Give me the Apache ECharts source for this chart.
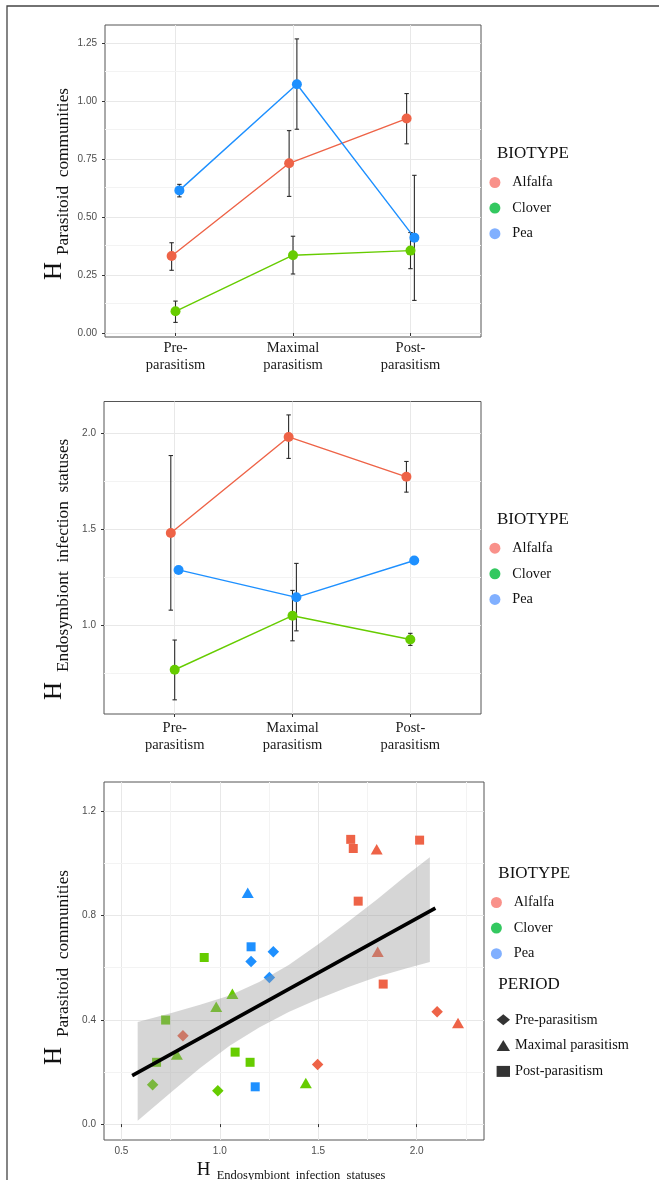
<!DOCTYPE html>
<html>
<head>
<meta charset="utf-8">
<script src="https://cdn.jsdelivr.net/npm/echarts@6/dist/echarts.min.js"></script>
<style>
html,body{margin:0;padding:0;background:#fff;}
#chart{width:659px;height:1180px;}
</style>
</head>
<body>
<div id="chart"></div>
<script>
// ---------- DATA ----------
const categories = ['Pre-\nparasitism', 'Maximal\nparasitism', 'Post-\nparasitism'];
const biotypes = ['Alfalfa', 'Clover', 'Pea'];
const periods = ['Pre-parasitism', 'Maximal parasitism', 'Post-parasitism'];

// Panel 1: H Parasitoid communities (mean, lower, upper) per biotype, per period
const parasitoidMean = { Alfalfa: [0.333, 0.733, 0.926], Clover: [0.094, 0.336, 0.356], Pea: [0.616, 1.074, 0.412] };
const parasitoidLow  = { Alfalfa: [0.271, 0.590, 0.817], Clover: [0.046, 0.255, 0.278], Pea: [0.588, 0.880, 0.141] };
const parasitoidHigh = { Alfalfa: [0.390, 0.874, 1.034], Clover: [0.138, 0.418, 0.434], Pea: [0.642, 1.270, 0.681] };

// Panel 2: H Endosymbiont infection statuses
const endoMean = { Alfalfa: [1.481, 1.982, 1.774], Clover: [0.767, 1.049, 0.925], Pea: [1.288, 1.145, 1.337] };
const endoLow  = { Alfalfa: [1.078, 1.870, 1.694], Clover: [0.610, 0.918, 0.894], Pea: [1.285, 0.970, 1.334] };
const endoHigh = { Alfalfa: [1.885, 2.097, 1.854], Clover: [0.922, 1.181, 0.957], Pea: [1.291, 1.322, 1.340] };

// Panel 3: scatter [H endosymbiont, H parasitoid] by biotype and period
const scatterPoints = {
  Alfalfa: {
    'Pre-parasitism':     [[0.813, 0.339], [1.497, 0.229], [2.104, 0.431]],
    'Maximal parasitism': [[1.797, 1.054], [1.802, 0.661], [2.210, 0.388]],
    'Post-parasitism':    [[1.665, 1.092], [1.678, 1.057], [2.015, 1.089], [1.703, 0.855], [1.830, 0.537]]
  },
  Clover: {
    'Pre-parasitism':     [[0.659, 0.151], [0.990, 0.128]],
    'Maximal parasitism': [[1.064, 0.500], [0.982, 0.450], [0.782, 0.267], [1.437, 0.158]],
    'Post-parasitism':    [[0.921, 0.639], [0.725, 0.399], [0.679, 0.237], [1.078, 0.276], [1.154, 0.237]]
  },
  Pea: {
    'Pre-parasitism':     [[1.159, 0.624], [1.272, 0.661], [1.252, 0.562]],
    'Maximal parasitism': [[1.142, 0.887]],
    'Post-parasitism':    [[1.159, 0.680], [1.180, 0.143]]
  }
};
// regression line end points and confidence ribbon
const regLineX = [0.555, 2.095];
const regLineY = [0.186, 0.828];
const ribbonX    = [0.583, 0.75, 0.90, 1.05, 1.20, 1.35, 1.50, 1.65, 1.80, 1.95, 2.067];
const ribbonLow  = [0.013, 0.120, 0.215, 0.300, 0.370, 0.430, 0.480, 0.525, 0.565, 0.598, 0.622];
const ribbonHigh = [0.392, 0.425, 0.458, 0.493, 0.545, 0.610, 0.690, 0.775, 0.862, 0.955, 1.023];

// ticks
const catTicks = [1, 2, 3];
const parasitoidTicks = [0, 0.25, 0.5, 0.75, 1.0, 1.25];
const parasitoidMinor = [0.125, 0.375, 0.625, 0.875, 1.125];
const endoTicks = [1.0, 1.5, 2.0];
const endoMinor = [0.75, 1.25, 1.75];
const scatterXTicks = [0.5, 1.0, 1.5, 2.0];
const scatterXMinor = [0.75, 1.25, 1.75, 2.25];
const scatterYTicks = [0, 0.4, 0.8, 1.2];
const scatterYMinor = [0.2, 0.6, 1.0];

// ---------- STYLE ----------
const lineColors = { Alfalfa: '#EE6347', Clover: '#66CC00', Pea: '#1E90FF' };
const legendColors = { Alfalfa: '#F8766D', Clover: '#00BA38', Pea: '#619CFF' };
const dodge = { Alfalfa: -0.033, Clover: 0, Pea: 0.033 };
const periodSymbols = { 'Pre-parasitism': 'diamond', 'Maximal parasitism': 'triangle', 'Post-parasitism': 'rect' };
const periodSizes = { 'Pre-parasitism': [11.5, 11.5], 'Maximal parasitism': [12, 10.5], 'Post-parasitism': 9 };
const SERIF = '"Liberation Serif", "Times New Roman", serif';
const SANS = '"Liberation Sans", Arial, sans-serif';
const MAJOR = '#e8e8e8', MINOR = '#f3f3f3';

function axisCommon(gridIndex, min, max, ticks, formatter, labelOpts) {
  return {
    type: 'value', gridIndex, min, max,
    axisLine: { show: false },
    axisTick: { show: true, length: 3, customValues: ticks, lineStyle: { color: '#333', width: 1 } },
    axisLabel: Object.assign({ customValues: ticks, formatter, color: '#4d4d4d', fontSize: 10, fontFamily: SANS, margin: 8 }, labelOpts || {}),
    splitLine: { show: true, lineStyle: { color: MAJOR, width: 1 } }
  };
}
const catLabel = (margin) => ({
  fontFamily: SERIF, fontSize: 14.5, lineHeight: 17, color: '#1a1a1a', margin,
  formatter: v => categories[Math.round(v) - 1]
});

function errorBarRender(params, api) {
  const x = api.value(0);
  const p1 = api.coord([x, api.value(1)]);
  const p2 = api.coord([x, api.value(2)]);
  const hw = 2.2;
  const st = { stroke: '#2b2b2b', lineWidth: 1.1 };
  return { type: 'group', children: [
    { type: 'line', shape: { x1: p1[0], y1: p1[1], x2: p2[0], y2: p2[1] }, style: st },
    { type: 'line', shape: { x1: p1[0] - hw, y1: p1[1], x2: p1[0] + hw, y2: p1[1] }, style: st },
    { type: 'line', shape: { x1: p2[0] - hw, y1: p2[1], x2: p2[0] + hw, y2: p2[1] }, style: st }
  ]};
}

function minorLines(idx, yVals, xVals) {
  const data = yVals.map(v => ({ yAxis: v })).concat((xVals || []).map(v => ({ xAxis: v })));
  return {
    type: 'line', name: 'minor' + idx, xAxisIndex: idx, yAxisIndex: idx, data: [], z: 1, silent: true,
    markLine: { z: 1, silent: true, symbol: ['none', 'none'], label: { show: false }, emphasis: { disabled: true },
      lineStyle: { color: MINOR, width: 1, type: 'solid' }, data }
  };
}

const series = [];
series.push(minorLines(0, parasitoidMinor));
series.push(minorLines(1, endoMinor));
series.push(minorLines(2, scatterYMinor, scatterXMinor));

function panelSeries(idx, mean, low, high) {
  biotypes.forEach(b => {
    series.push({
      type: 'custom', name: b + ' err ' + idx, xAxisIndex: idx, yAxisIndex: idx, z: 2, silent: true,
      encode: { x: 0, y: [1, 2] },
      data: mean[b].map((m, i) => [catTicks[i] + dodge[b], low[b][i], high[b][i]]),
      renderItem: errorBarRender
    });
    series.push({
      type: 'line', name: b + ' line ' + idx, xAxisIndex: idx, yAxisIndex: idx, z: 3,
      data: mean[b].map((m, i) => [catTicks[i] + dodge[b], m]),
      symbol: 'circle', symbolSize: 10, showSymbol: true,
      lineStyle: { color: lineColors[b], width: 1.4 },
      itemStyle: { color: lineColors[b] }
    });
  });
}
panelSeries(0, parasitoidMean, parasitoidLow, parasitoidHigh);
panelSeries(1, endoMean, endoLow, endoHigh);

biotypes.forEach(b => {
  periods.forEach(p => {
    series.push({
      type: 'scatter', name: b + ' ' + p, xAxisIndex: 2, yAxisIndex: 2, z: 3,
      symbol: periodSymbols[p], symbolSize: periodSizes[p],
      itemStyle: { color: lineColors[b], opacity: 1 },
      data: scatterPoints[b][p]
    });
  });
});
series.push({
  type: 'custom', name: 'ribbon', xAxisIndex: 2, yAxisIndex: 2, z: 4, silent: true,
  encode: { x: 0, y: [1, 2] },
  data: ribbonX.map((x, i) => [x, ribbonLow[i], ribbonHigh[i]]),
  renderItem: function (params, api) {
    if (params.dataIndex !== 0) return null;
    const up = ribbonX.map((x, i) => api.coord([x, ribbonHigh[i]]));
    const lo = ribbonX.map((x, i) => api.coord([x, ribbonLow[i]])).reverse();
    return { type: 'polygon', shape: { points: up.concat(lo) }, style: { fill: 'rgba(153,153,153,0.4)' } };
  }
});
series.push({
  type: 'line', name: 'fit', xAxisIndex: 2, yAxisIndex: 2, z: 5, symbol: 'none',
  data: regLineX.map((x, i) => [x, regLineY[i]]),
  lineStyle: { color: '#000', width: 3.6 }
});
// legend-only series
biotypes.forEach(b => series.push({ type: 'scatter', name: b, xAxisIndex: 0, yAxisIndex: 0, data: [], itemStyle: { color: legendColors[b] } }));
periods.forEach(p => series.push({ type: 'scatter', name: p, xAxisIndex: 2, yAxisIndex: 2, data: [], symbol: periodSymbols[p], itemStyle: { color: '#000' } }));

const legendText = { fontFamily: SERIF, fontSize: 14.3, color: '#111', lineHeight: 11 };
function bioLegend(left, top) {
  return { orient: 'vertical', left, top, itemWidth: 24.6, itemHeight: 11, itemGap: 11.6, icon: 'circle',
    selectedMode: false, textStyle: legendText, data: biotypes };
}

const option = {
  animation: false,
  backgroundColor: '#fff',
  grid: [
    { left: 105, top: 25, width: 376, height: 312, show: true, borderColor: '#555', borderWidth: 1, backgroundColor: '#fff' },
    { left: 104, top: 401.5, width: 377, height: 312.5, show: true, borderColor: '#555', borderWidth: 1, backgroundColor: '#fff' },
    { left: 104, top: 782, width: 380, height: 358, show: true, borderColor: '#555', borderWidth: 1, backgroundColor: '#fff' }
  ],
  xAxis: [
    axisCommon(0, 0.4, 3.6, catTicks, null, catLabel(3)),
    axisCommon(1, 0.4, 3.6, catTicks, null, catLabel(6)),
    axisCommon(2, 0.412, 2.342, scatterXTicks, v => v.toFixed(1), { margin: 6 })
  ],
  yAxis: [
    axisCommon(0, -0.017, 1.33, parasitoidTicks, v => v.toFixed(2)),
    axisCommon(1, 0.536, 2.167, endoTicks, v => v.toFixed(1)),
    axisCommon(2, -0.061, 1.312, scatterYTicks, v => v.toFixed(1))
  ],
  legend: [
    bioLegend(484.4, 170.5),
    bioLegend(484.4, 536.2),
    bioLegend(485.9, 890.5),
    { orient: 'vertical', left: 491.6, top: 1007.8, itemWidth: 13.4, itemHeight: 11, itemGap: 11.8,
      selectedMode: false, textStyle: legendText,
      data: periods.map(p => ({ name: p, icon: periodSymbols[p] })) }
  ],
  graphic: [
    { type: 'rect', silent: true, shape: { x: 7, y: 6, width: 760, height: 1300 }, style: { fill: null, stroke: '#444', lineWidth: 1.3 } },
    { type: 'group', x: 54, y: 280, rotation: Math.PI / 2, children: [
      { type: 'text', x: 0, y: 0, style: { text: 'H', font: '25px ' + SERIF, fill: '#111', align: 'left', verticalAlign: 'middle' } },
      { type: 'text', x: 25, y: 9.5, style: { text: 'Parasitoid  communities', font: '17.3px ' + SERIF, fill: '#111', align: 'left', verticalAlign: 'middle' } }
    ]},
    { type: 'group', x: 54, y: 700, rotation: Math.PI / 2, children: [
      { type: 'text', x: 0, y: 0, style: { text: 'H', font: '25px ' + SERIF, fill: '#111', align: 'left', verticalAlign: 'middle' } },
      { type: 'text', x: 28, y: 9.5, style: { text: 'Endosymbiont  infection  statuses', font: '17.3px ' + SERIF, fill: '#111', align: 'left', verticalAlign: 'middle' } }
    ]},
    { type: 'group', x: 54, y: 1065, rotation: Math.PI / 2, children: [
      { type: 'text', x: 0, y: 0, style: { text: 'H', font: '25px ' + SERIF, fill: '#111', align: 'left', verticalAlign: 'middle' } },
      { type: 'text', x: 28, y: 9.5, style: { text: 'Parasitoid  communities', font: '17.3px ' + SERIF, fill: '#111', align: 'left', verticalAlign: 'middle' } }
    ]},
    { type: 'text', x: 196.7, y: 1170, style: { text: 'H', font: '19px ' + SERIF, fill: '#111', align: 'left', verticalAlign: 'middle' } },
    { type: 'text', x: 216.7, y: 1176, style: { text: 'Endosymbiont  infection  statuses', font: '12.5px ' + SERIF, fill: '#111', align: 'left', verticalAlign: 'middle' } },
    { type: 'text', x: 497, y: 154, style: { text: 'BIOTYPE', font: '17px ' + SERIF, fill: '#111', align: 'left', verticalAlign: 'middle' } },
    { type: 'text', x: 497, y: 519.3, style: { text: 'BIOTYPE', font: '17px ' + SERIF, fill: '#111', align: 'left', verticalAlign: 'middle' } },
    { type: 'text', x: 498.3, y: 873.3, style: { text: 'BIOTYPE', font: '17px ' + SERIF, fill: '#111', align: 'left', verticalAlign: 'middle' } },
    { type: 'text', x: 498.3, y: 985, style: { text: 'PERIOD', font: '17px ' + SERIF, fill: '#111', align: 'left', verticalAlign: 'middle' } }
  ],
  series
};

const chart = echarts.init(document.getElementById('chart'), null, { renderer: 'canvas' });
chart.setOption(option);
</script>
</body>
</html>
